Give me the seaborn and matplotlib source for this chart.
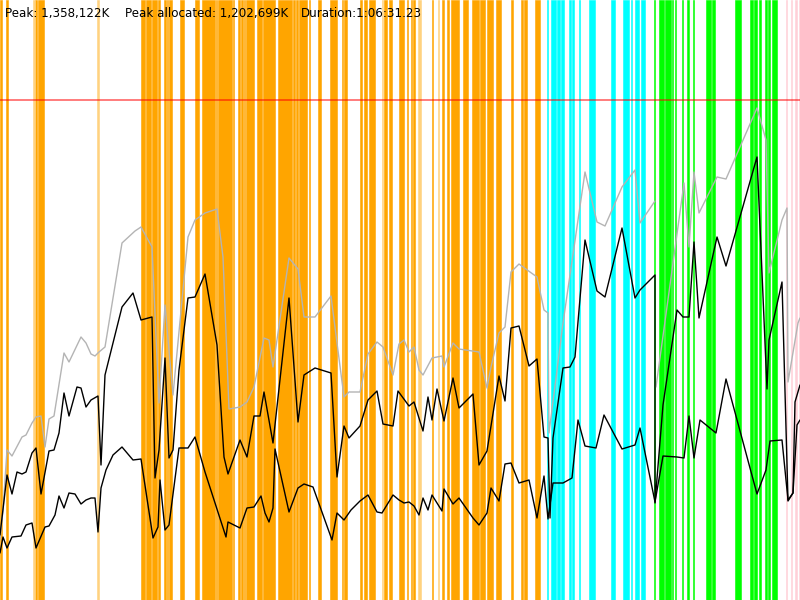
import pandas as pd
import matplotlib
matplotlib.use('Agg')
import matplotlib.pyplot as plt
import seaborn as sns

sns.set_style('white')
plt.rcParams['font.family'] = ['DejaVu Sans']

# 시간(초) / 메모리 (화면 높이 단위, 0~600)
gray_t = [0, 15, 35, 60, 110, 130, 160, 180, 205, 225,
          245, 270, 320, 345, 405, 430, 455, 475, 495, 525,
          610, 675, 705, 760, 795, 825, 865, 940, 975, 1025,
          1085, 1115, 1145, 1200, 1235, 1270, 1320, 1345, 1365, 1445,
          1490, 1520, 1575, 1655, 1685, 1720, 1745, 1800, 1840, 1885,
          1915, 1965, 1995, 2020, 2045, 2070, 2095, 2115, 2160, 2210,
          2220, 2265, 2295, 2395, 2435, 2455, 2495, 2525, 2555, 2595,
          2650, 2685, 2720, 2740, 2745, 2815, 2925, 2985, 3025, 3110,
          3175, 3200, 3275]
gray_mem = [60, 90, 150, 144, 163, 165, 177, 183, 184, 153,
            181, 184, 247, 238, 263, 257, 246, 244, 248, 253,
            357, 369, 373, 353, 197, 295, 205, 363, 380, 387,
            391, 343, 191, 193, 198, 213, 262, 260, 233, 342,
            331, 283, 283, 304, 257, 203, 208, 208, 246, 258,
            253, 225, 256, 260, 248, 253, 230, 225, 242, 244,
            233, 257, 251, 248, 212, 233, 267, 273, 328, 336,
            328, 323, 290, 287, 167, 277, 428, 378, 374, 413,
            430, 377, 399]
gray2_t = [3280, 3420, 3445, 3470, 3495, 3585, 3630, 3785, 3830, 3845,
           3910, 3935, 3940, 3990, 4000]
gray2_mem = [213, 417, 353, 428, 387, 423, 421, 492, 460, 327,
             380, 392, 218, 277, 282]

upper_t = [0, 35, 60, 85, 110, 130, 160, 180, 205, 245,
           270, 295, 320, 345, 385, 405, 430, 455, 490, 505,
           525, 610, 665, 705, 760, 775, 795, 825, 845, 865,
           895, 940, 975, 1025, 1085, 1120, 1140, 1200, 1235, 1270,
           1300, 1320, 1365, 1445, 1490, 1520, 1575, 1655, 1685, 1720,
           1745, 1800, 1840, 1885, 1915, 1965, 1990, 2045, 2070, 2115,
           2140, 2160, 2185, 2220, 2265, 2295, 2365, 2395, 2435, 2495,
           2525, 2555, 2595, 2645, 2685, 2720, 2740, 2750, 2765, 2815,
           2850, 2875, 2925, 2985, 3025, 3110, 3175, 3200, 3275, 3275,
           3315, 3385, 3415, 3445, 3470, 3495, 3585, 3630, 3785, 3835,
           3845, 3910, 3940, 3965, 3975, 4000]
upper_mem = [65, 125, 106, 128, 126, 128, 147, 152, 106, 149,
             150, 167, 207, 184, 213, 212, 193, 200, 204, 135,
             225, 293, 307, 280, 283, 122, 150, 242, 142, 150,
             230, 302, 303, 326, 255, 143, 126, 160, 143, 184,
             184, 208, 157, 302, 178, 225, 232, 227, 123, 174,
             162, 174, 200, 209, 176, 174, 209, 194, 198, 169,
             203, 180, 211, 179, 222, 192, 206, 135, 149, 224,
             199, 272, 274, 234, 241, 163, 162, 82, 162, 232,
             233, 243, 360, 309, 303, 372, 302, 310, 325, 97,
             195, 290, 283, 283, 358, 282, 363, 334, 443, 211,
             260, 318, 99, 107, 198, 215]

lower_t = [0, 15, 35, 60, 105, 130, 160, 180, 225, 245,
           275, 295, 320, 345, 375, 405, 430, 455, 475, 490,
           505, 530, 565, 610, 665, 705, 765, 790, 800, 825,
           845, 895, 940, 975, 1025, 1130, 1140, 1200, 1235, 1270,
           1305, 1325, 1345, 1365, 1375, 1445, 1490, 1520, 1565, 1660,
           1685, 1720, 1755, 1800, 1840, 1885, 1910, 1965, 1995, 2020,
           2045, 2070, 2095, 2115, 2140, 2160, 2210, 2220, 2265, 2295,
           2365, 2395, 2435, 2455, 2495, 2525, 2555, 2595, 2645, 2685,
           2720, 2740, 2765, 2815, 2860, 2890, 2925, 2980, 3020, 3110,
           3175, 3200, 3275, 3315, 3385, 3420, 3445, 3470, 3500, 3580,
           3630, 3785, 3830, 3850, 3910, 3940, 3965, 3985, 4000]
lower_mem = [47, 63, 52, 63, 64, 75, 77, 52, 73, 74,
             85, 104, 92, 107, 106, 96, 100, 102, 102, 68,
             112, 130, 145, 153, 140, 141, 62, 73, 120, 70,
             75, 152, 152, 163, 128, 63, 78, 72, 92, 93,
             104, 87, 78, 92, 151, 88, 112, 116, 113, 60,
             87, 80, 90, 99, 105, 88, 87, 105, 100, 97,
             98, 94, 85, 102, 90, 105, 89, 111, 96, 102,
             82, 75, 87, 112, 99, 136, 137, 117, 120, 82,
             124, 81, 117, 117, 122, 180, 154, 152, 185, 151,
             155, 172, 98, 144, 143, 142, 184, 142, 180, 167,
             221, 106, 130, 159, 160, 100, 107, 175, 180]

peak_level = 500

# 구간 (시작, 끝)
orange_spans = [(0, 8.5), (28.5, 38.5), (173.5, 186.5), (190, 220), (705, 725), (730, 755),
                (760, 785), (787.5, 797.5), (820, 830), (832.5, 840), (845, 860), (900, 920),
                (975, 995), (1010, 1075), (1080, 1085), (1090, 1160), (1165, 1170), (1190, 1200),
                (1205, 1215), (1220, 1225), (1230, 1270), (1285, 1310), (1315, 1375), (1390, 1460),
                (1462.5, 1475), (1480, 1490), (1495, 1535), (1545, 1550), (1590, 1605), (1650, 1685),
                (1710, 1715), (1720, 1735), (1800, 1810), (1820, 1835), (1845, 1875), (1920, 1935),
                (1945, 1960), (1995, 2020), (2035, 2040), (2055, 2060), (2065, 2075), (2160, 2165),
                (2210, 2220), (2235, 2245), (2255, 2295), (2315, 2340), (2360, 2395), (2400, 2425),
                (2435, 2465), (2480, 2505), (2555, 2565), (2605, 2615), (2620, 2635), (2675, 2700)]
light_orange_spans = [(165, 173.5), (485, 495), (1910, 1915), (2090, 2105), (2190, 2195)]
cyan_spans = [(2735, 2740), (2755, 2780), (2785, 2800), (2805, 2820), (2845, 2855), (2860, 2870),
              (2895, 2900), (2945, 2975), (3055, 3075), (3115, 3145), (3155, 3160), (3175, 3195),
              (3205, 3225)]
green_spans = [(3270, 3275), (3295, 3320), (3325, 3355), (3360, 3365), (3375, 3380), (3410, 3415),
               (3435, 3445), (3465, 3470), (3530, 3555), (3560, 3575), (3675, 3705), (3750, 3765),
               (3767.5, 3785), (3795, 3805), (3825, 3835), (3837.5, 3850), (3860, 3885)]
pink_spans = [(3930, 3935), (3955, 3960), (3975, 3985), (3995, 4000)]

labels = ['Peak: 1,358,122K', 'Peak allocated: 1,202,699K', 'Duration:1:06:31.23']
label_x = [5, 125, 301]

#%%
fig = plt.figure(figsize=(8, 6), dpi=100)
ax = fig.add_axes([0, 0, 1, 1])

span_styles = [(orange_spans, '#ffa500'), (light_orange_spans, '#ffd27f'),
               (cyan_spans, '#00ffff'), (green_spans, '#00ff00'), (pink_spans, '#ffd0d8')]
for spans, col in span_styles:
    for s, e in spans:
        ax.axvspan(s, e, facecolor=col, edgecolor=col, lw=0.4, zorder=1)

ax.axhline(peak_level, color='red', alpha=0.6, lw=1.2, zorder=2)

gray_df = pd.concat([pd.DataFrame({'t': gray_t, 'mem': gray_mem, 'seg': 0}),
                     pd.DataFrame({'t': gray2_t, 'mem': gray2_mem, 'seg': 1})])
sns.lineplot(data=gray_df, x='t', y='mem', units='seg', estimator=None, sort=False,
             color='#b4b4b4', lw=1, ax=ax, zorder=3)
sns.lineplot(x=upper_t, y=upper_mem, estimator=None, sort=False, color='black', lw=1, ax=ax, zorder=4)
sns.lineplot(x=lower_t, y=lower_mem, estimator=None, sort=False, color='black', lw=1, ax=ax, zorder=4)

ax.set_xlim(0, 4000)
ax.set_ylim(0, 600)
ax.set_axis_off()

for lab, px in zip(labels, label_x):
    fig.text(px / 800, 1 - 17 / 600, lab, fontsize=8.6, va='baseline', ha='left', color='black')

plt.savefig('out.png', dpi=100)
